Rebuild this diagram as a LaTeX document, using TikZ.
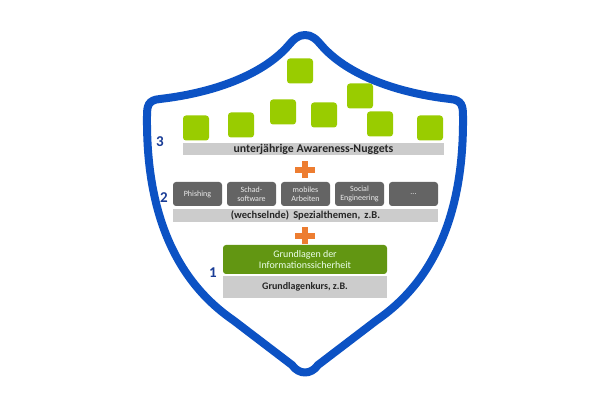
\documentclass[tikz,border=0pt]{standalone}
\usepackage{fontspec}
\setmainfont{Carlito}
\definecolor{shieldblue}{RGB}{12,82,196}
\definecolor{numblue}{RGB}{25,60,150}
\definecolor{nuggetgreen}{RGB}{153,204,0}
\definecolor{basegreen}{RGB}{98,150,18}
\definecolor{bargrey}{RGB}{204,204,204}
\definecolor{topicgrey}{RGB}{100,100,100}
\definecolor{plusorange}{RGB}{237,125,49}
\begin{document}
\begin{tikzpicture}[x=1pt,y=-1pt,
  shield/.style={draw=shieldblue,line width=8pt,line join=round},
  nugget/.style={fill=nuggetgreen,rounded corners=3pt,minimum width=26pt,minimum height=25pt,inner sep=0pt},
  bar/.style={fill=bargrey,inner sep=0pt,text=black!85},
  topic/.style={fill=topicgrey,rounded corners=3pt,minimum width=49pt,minimum height=24pt,inner sep=0pt,
    text=black!8,align=center,font=\fontsize{8}{9}\selectfont},
  basebox/.style={fill=basegreen,rounded corners=3pt,minimum width=164pt,minimum height=29pt,inner sep=0pt,
    text=white!92!green,align=center,font=\fontsize{10}{11.5}\selectfont},
  num/.style={text=numblue,font=\fontsize{15}{15}\selectfont\bfseries,inner sep=0pt},
  plussign/.pic={\fill[plusorange] (-10,-3) rectangle (10,3); \fill[plusorange] (-3,-8.5) rectangle (3,8.5);}
]
\useasboundingbox (0,0) rectangle (600,411);
\fill[white] (0,0) rectangle (600,411);

% shield
\draw[shield] (305,35) .. controls (312,35) and (316,39) .. (322,46)
 .. controls (345,72) and (390,92) .. (450,99)
 .. controls (462,100) and (463,106) .. (463,116)
 .. controls (464,212) and (435,280) .. (377,320)
 -- (318,365) .. controls (311,375) and (299,375) .. (292,365)
 -- (233,320)
 .. controls (175,280) and (146,212) .. (147,116)
 .. controls (147,106) and (148,100) .. (160,99)
 .. controls (220,92) and (265,72) .. (288,46)
 .. controls (294,39) and (298,35) .. cycle;

% nuggets
\node[nugget] (n1) at (300,71) {};
\node[nugget] (n2) at (283,112) {};
\node[nugget] (n3) at (324,115) {};
\node[nugget] (n4) at (360,96) {};
\node[nugget] (n5) at (380,124) {};
\node[nugget] (n6) at (430,128) {};
\node[nugget] (n7) at (196,128) {};
\node[nugget] (n8) at (241,125) {};

\node[bar,minimum width=261pt,minimum height=12pt,font=\fontsize{11.8}{12}\selectfont\bfseries] (bar3) at (313.5,149) {unterjährige Awareness-Nuggets};
\node[num] (l3) at (160,142) {3};

\pic at (305,170) {plussign};

% special topics
\node[topic] (t1) at (197.5,194) {Phishing};
\node[topic] (t2) at (251.5,194) {Schad-\\software};
\node[topic] (t3) at (305.5,194) {mobiles\\Arbeiten};
\node[topic] (t4) at (359.5,194) {Social\\Engineering};
\node[topic] (t5) at (413.5,194) {...};
\node[bar,minimum width=265pt,minimum height=13pt,font=\fontsize{10.5}{11}\selectfont\bfseries] (bar2) at (305.5,215.5) {(wechselnde)\, Spezialthemen,\, z.B.};
\node[num] (l2) at (164,198) {2};

\pic at (305,236) {plussign};

% basics
\node[basebox] (base) at (305,259.5) {Grundlagen der\\Informationssicherheit};
\node[bar,minimum width=164pt,minimum height=22pt,font=\fontsize{10}{11}\selectfont\bfseries] (bar1) at (305,287) {Grundlagenkurs, z.B.};
\node[num] (l1) at (213,273) {1};
\end{tikzpicture}
\end{document}
